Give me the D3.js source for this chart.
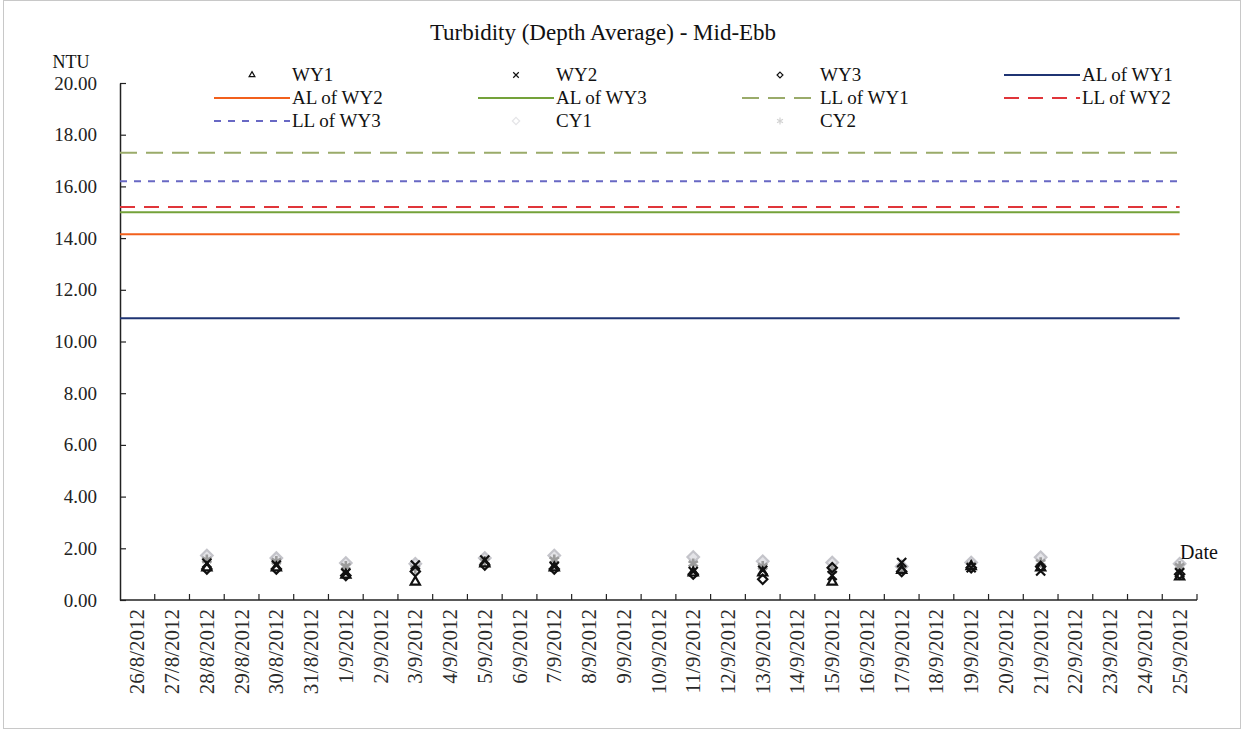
<!DOCTYPE html>
<html>
<head>
<meta charset="utf-8">
<script src="https://cdn.jsdelivr.net/npm/d3@7/dist/d3.min.js"></script>
<style>
  html, body { margin: 0; padding: 0; background: #fff; }
</style>
</head>
<body>
<svg id="chart" width="1245" height="734"></svg>
<script>
// Daily categories along the date axis
const dates = [
  "26/8/2012","27/8/2012","28/8/2012","29/8/2012","30/8/2012","31/8/2012",
  "1/9/2012","2/9/2012","3/9/2012","4/9/2012","5/9/2012","6/9/2012",
  "7/9/2012","8/9/2012","9/9/2012","10/9/2012","11/9/2012","12/9/2012",
  "13/9/2012","14/9/2012","15/9/2012","16/9/2012","17/9/2012","18/9/2012",
  "19/9/2012","20/9/2012","21/9/2012","22/9/2012","23/9/2012","24/9/2012",
  "25/9/2012"
];

// Monitoring days and depth-averaged turbidity (NTU) at each station
const sampleDates = ["28/8/2012","30/8/2012","1/9/2012","3/9/2012","5/9/2012","7/9/2012",
  "11/9/2012","13/9/2012","15/9/2012","17/9/2012","19/9/2012","21/9/2012","25/9/2012"];
const wy1 = [1.25, 1.25, 0.97, 0.70, 1.40, 1.25, 1.05, 1.05, 0.70, 1.15, 1.30, 1.25, 0.90];
const wy2 = [1.42, 1.35, 1.04, 1.35, 1.55, 1.30, 1.10, 1.15, 0.95, 1.45, 1.25, 1.12, 1.05];
const wy3 = [1.20, 1.20, 0.95, 1.10, 1.35, 1.20, 1.00, 0.80, 1.25, 1.10, 1.25, 1.30, 1.00];
const cy1 = [1.72, 1.62, 1.43, 1.40, 1.62, 1.72, 1.66, 1.50, 1.45, 1.30, 1.45, 1.65, 1.40];
const cy2 = [1.55, 1.50, 1.30, 1.22, 1.50, 1.55, 1.40, 1.30, 1.15, 1.20, 1.35, 1.45, 1.30];

// Action / limit levels (NTU)
const alWY1 = 10.9, alWY2 = 14.15, alWY3 = 15.0;
const llWY1 = 17.3, llWY2 = 15.2, llWY3 = 16.2;

const yTicks = [0, 2, 4, 6, 8, 10, 12, 14, 16, 18, 20];

const FONT = "'Liberation Serif', 'Times New Roman', Times, serif";
const svg = d3.select("#chart").style("font-family", FONT);
const plotL = 120, plotR = 1197, plotT = 83, plotB = 600;

const label = (g, x0, y0, txt, size, anchor) =>
  g.append("text").attr("x", x0).attr("y", y0).attr("text-anchor", anchor || "start")
    .style("font-family", FONT).style("font-size", size + "px").attr("fill", "#111").text(txt);

// outer chart frame
svg.append("rect").attr("x", 3.5).attr("y", 0.5).attr("width", 1237).attr("height", 728)
  .attr("fill", "none").attr("stroke", "#c8c8c8").attr("stroke-width", 1);

const x = d3.scaleBand().domain(dates).range([plotL, plotR]).paddingInner(0).paddingOuter(0);
const cx = d => x(d) + x.bandwidth() / 2;
const y = d3.scaleLinear().domain([0, 20]).range([plotB, plotT]);

// title
label(svg, 603, 40, "Turbidity (Depth Average) - Mid-Ebb", 23, "middle");

// y axis
const yAxis = d3.axisLeft(y).tickValues(yTicks).tickFormat(d3.format(".2f"))
  .tickSizeInner(-6).tickSizeOuter(0).tickPadding(23);
const gy = svg.append("g").attr("transform", `translate(${plotL},0)`).call(yAxis);
gy.attr("font-family", null).attr("font-size", null);
gy.select(".domain").attr("stroke", "#222").attr("stroke-width", 1.5);
gy.selectAll(".tick line").attr("stroke", "#222").attr("stroke-width", 1.2);
gy.selectAll(".tick text").style("font-family", FONT).style("font-size", "19px").attr("fill", "#222");
label(svg, 71, 68, "NTU", 18, "middle");

// x axis: ticks sit between categories, labels at category centres
const gx = svg.append("g").attr("transform", `translate(0,${plotB})`);
gx.append("line").attr("x1", plotL).attr("x2", plotR).attr("y1", 0).attr("y2", 0)
  .attr("stroke", "#222").attr("stroke-width", 1.5);
gx.selectAll("line.tk").data(dates).enter().append("line").attr("class", "tk")
  .attr("x1", d => x(d) + x.bandwidth()).attr("x2", d => x(d) + x.bandwidth())
  .attr("y1", 0).attr("y2", -6).attr("stroke", "#222").attr("stroke-width", 1.2);
gx.selectAll("text.lbl").data(dates).enter().append("text").attr("class", "lbl")
  .attr("transform", d => `translate(${cx(d) + 7},9) rotate(-90)`)
  .attr("text-anchor", "end").style("font-family", FONT).style("font-size", "21px")
  .attr("fill", "#2a2a2a").text(d => d);
label(svg, 1199, 559, "Date", 20, "middle");

// limit lines
const limits = [
  { name: "AL of WY1", v: alWY1, color: "#1f3473", dash: null },
  { name: "AL of WY2", v: alWY2, color: "#f2601c", dash: null },
  { name: "AL of WY3", v: alWY3, color: "#74a23a", dash: null },
  { name: "LL of WY1", v: llWY1, color: "#9aab6a", dash: "17,9" },
  { name: "LL of WY2", v: llWY2, color: "#e0353a", dash: "15,9" },
  { name: "LL of WY3", v: llWY3, color: "#6868c4", dash: "7,7" }
];
const lineEnd = cx(dates[dates.length - 1]);
svg.append("g").selectAll("line").data(limits).enter().append("line")
  .attr("x1", plotL).attr("x2", lineEnd)
  .attr("y1", d => y(d.v)).attr("y2", d => y(d.v))
  .attr("stroke", d => d.color).attr("stroke-width", 2)
  .attr("stroke-dasharray", d => d.dash);

// station markers
const sym = (t, fb) => t || fb;
const stations = [
  { name: "CY1", vals: cy1, type: sym(d3.symbolDiamond2, d3.symbolDiamond), size: 85, color: "#c4c4ca", fill: "#e4e4e8", sw: 2.2 },
  { name: "CY2", vals: cy2, type: sym(d3.symbolAsterisk, d3.symbolCross), size: 80, color: "#9c9c9c", fill: "none", sw: 2.6 },
  { name: "WY1", vals: wy1, type: sym(d3.symbolTriangle2, d3.symbolTriangle), size: 60, color: "#111", fill: "none", sw: 2.2 },
  { name: "WY2", vals: wy2, type: sym(d3.symbolTimes, d3.symbolCross), size: 55, color: "#111", fill: "none", sw: 2.2 },
  { name: "WY3", vals: wy3, type: sym(d3.symbolDiamond2, d3.symbolDiamond), size: 55, color: "#111", fill: "none", sw: 2.2 }
];
stations.forEach(s => {
  svg.append("g").selectAll("path").data(sampleDates.map((d, i) => ({ d, v: s.vals[i] })))
    .enter().append("path")
    .attr("transform", p => `translate(${cx(p.d)},${y(p.v)})`)
    .attr("d", d3.symbol().type(s.type).size(s.size))
    .attr("fill", s.fill).attr("stroke", s.color).attr("stroke-width", s.sw);
});

// legend: 4 columns, filled row by row
const legendItems = [
  { name: "WY1", kind: "sym", st: stations[2] },
  { name: "WY2", kind: "sym", st: stations[3] },
  { name: "WY3", kind: "sym", st: stations[4] },
  { name: "AL of WY1", kind: "line", lm: limits[0] },
  { name: "AL of WY2", kind: "line", lm: limits[1] },
  { name: "AL of WY3", kind: "line", lm: limits[2] },
  { name: "LL of WY1", kind: "line", lm: limits[3] },
  { name: "LL of WY2", kind: "line", lm: limits[4] },
  { name: "LL of WY3", kind: "line", lm: limits[5] },
  { name: "CY1", kind: "sym", st: stations[0] },
  { name: "CY2", kind: "sym", st: stations[1] }
];
const colText = [292, 556, 820, 1082];
const rowY = [75, 98, 121];
const lg = svg.append("g");
legendItems.forEach((it, i) => {
  const c = i % 4, r = Math.floor(i / 4);
  const tx = colText[c], ty = rowY[r];
  if (it.kind === "line") {
    lg.append("line").attr("x1", tx - 78).attr("x2", tx - 2).attr("y1", ty).attr("y2", ty)
      .attr("stroke", it.lm.color).attr("stroke-width", 2).attr("stroke-dasharray", it.lm.dash);
  } else {
    lg.append("path").attr("transform", `translate(${tx - 40},${ty})`)
      .attr("d", d3.symbol().type(it.st.type).size(it.st.size * 0.4))
      .attr("fill", "none").attr("stroke", it.st.color).attr("stroke-width", 1.2)
      .attr("opacity", it.st.color === "#111" ? 1 : 0.45);
  }
  label(lg, tx, ty + 6, it.name, 19);
});
</script>
</body>
</html>
